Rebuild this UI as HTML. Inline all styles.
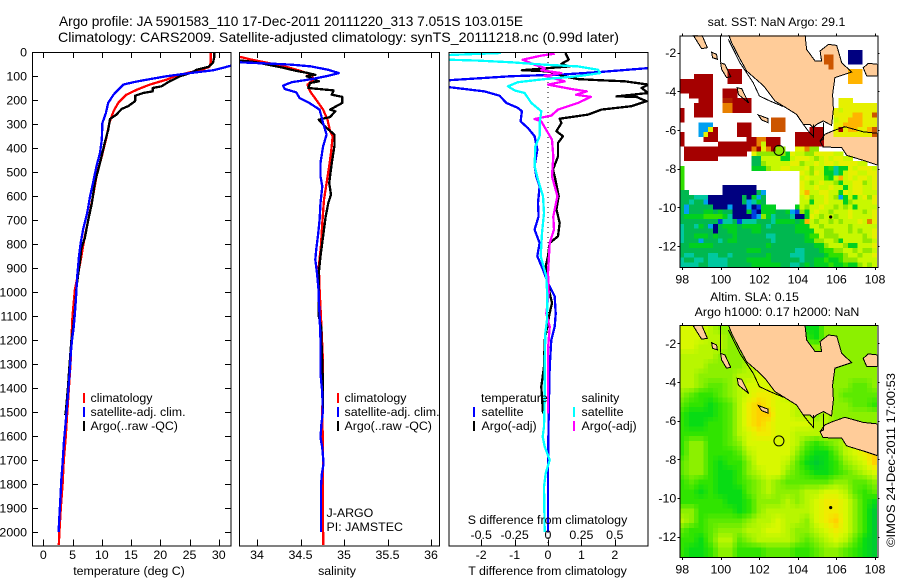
<!DOCTYPE html>
<html>
<head>
<meta charset="utf-8">
<title>Argo profile</title>
<style>
html,body{margin:0;padding:0;background:#fff;}
svg{display:block;}
text{font-family:"Liberation Sans",sans-serif;font-size:12.4px;fill:#000;}
.big{font-size:13.7px;}
</style>
</head>
<body>
<svg id="chart" xmlns="http://www.w3.org/2000/svg" width="900" height="580" viewBox="0 0 900 580">
  <rect x="0" y="0" width="900" height="580" fill="#fff"/>
  <text class="big" x="59" y="26">Argo profile: JA 5901583_110 17-Dec-2011 20111220_313 7.051S 103.015E</text>
  <text class="big" x="58" y="42" textLength="561" lengthAdjust="spacingAndGlyphs">Climatology: CARS2009. Satellite-adjusted climatology: synTS_20111218.nc (0.99d later)</text>
  <g id="plots"></g>
  <g id="maps"></g>

  <g>
    <rect x="83" y="393" width="2" height="10" fill="#f00"/>
    <text x="90.5" y="402">climatology</text>
    <rect x="83" y="407" width="2" height="10" fill="#00f"/>
    <text x="90.5" y="416">satellite-adj. clim.</text>
    <rect x="83" y="421" width="2" height="10" fill="#000"/>
    <text x="90.5" y="430">Argo(..raw -QC)</text>
  </g>
  <g>
    <rect x="337" y="393" width="2" height="10" fill="#f00"/>
    <text x="344.5" y="402">climatology</text>
    <rect x="337" y="407" width="2" height="10" fill="#00f"/>
    <text x="344.5" y="416">satellite-adj. clim.</text>
    <rect x="337" y="421" width="2" height="10" fill="#000"/>
    <text x="344.5" y="430">Argo(..raw -QC)</text>
    <text x="326.5" y="517">J-ARGO</text>
    <text x="326.5" y="531">PI: JAMSTEC</text>
  </g>
  <g>
    <text x="481" y="402">temperature</text>
    <rect x="473" y="407" width="2" height="10" fill="#00f"/>
    <text x="481.5" y="416">satellite</text>
    <rect x="473" y="421" width="2" height="10" fill="#000"/>
    <text x="481.5" y="430">Argo(-adj)</text>
    <text x="581.5" y="402">salinity</text>
    <rect x="573" y="407" width="2" height="10" fill="#0ff"/>
    <text x="581.5" y="416">satellite</text>
    <rect x="573" y="421" width="2" height="10" fill="#f0f"/>
    <text x="581.5" y="430">Argo(-adj)</text>
  </g>

  <text x="129" y="575" text-anchor="middle">temperature (deg C)</text>
  <text x="337" y="575" text-anchor="middle">salinity</text>
  <text x="547.5" y="575" text-anchor="middle">T difference from climatology</text>
  <text x="547.5" y="524" text-anchor="middle">S difference from climatology</text>

  <text x="776.5" y="26" text-anchor="middle">sat. SST: NaN Argo: 29.1</text>
  <text x="754.5" y="301" text-anchor="middle">Altim. SLA: 0.15</text>
  <text x="777" y="316" text-anchor="middle">Argo h1000: 0.17 h2000: NaN</text>
  <text transform="translate(895,547) rotate(-90)" textLength="174" lengthAdjust="spacingAndGlyphs">©IMOS 24-Dec-2011 17:00:53</text>
</svg>

<script>
// ---------- temperature profile data (depth in m, temperature in deg C) ----------
const tempClimDepth = [0,46,62,76,88,101,115,136,157,178,212,247,296,365,435,504,601,699,768,879,990,1101,1200,1300,1500,1600,1700,1800,1900,2000,2055];
const tempClimValue = [28.6,28.6,28.4,26.8,24.5,22.5,21.1,18.2,16,14.2,12.8,12,11.3,10.7,10,9.2,8.5,7.7,7.1,6.3,5.4,5,4.8,4.65,4.1,3.85,3.5,3.3,3,2.75,2.65];
const tempSatDepth = [57,76,88,101,118,126,136,157,178,212,254,296,365,421,476,546,601,671,740,796,851,935,1018,1100,1150,1200,1256,1339,1408,1492,1561,1631,1714,1783,1867,1964,2000];
const tempSatValue = [32.1,29.1,25.1,21.1,17.1,15.4,13.7,12.8,12,11.1,10.7,10.1,10,9.7,9.1,8.5,8,7.5,6.8,6.4,6.1,5.8,5.6,5.36,5.18,4.9,4.7,4.5,4.27,4,3.76,3.5,3.3,3.08,2.9,2.68,2.62];
const tempArgoDepth = [0,25,46,62,74,85,101,122,143,150,164,171,182,205,226,237,261,279,324,379,462,546,629,699,775,817,865,976,1060,1101,1150,1200,1300,1400,1500,1513];
const tempArgoValue = [29.2,29.2,29,28.2,26.2,25.4,23.4,21.6,20.2,18.7,18.7,17.1,15.7,15.7,14.5,13.4,12.5,11.4,11.1,10.5,9.7,8.8,8.3,7.7,7.1,6.5,6.3,5.7,5.45,5.3,5.1,4.8,4.5,4.2,3.85,3.75];
const tempTicks = [0,5,10,15,20,25,30];

// ---------- salinity profile data ----------
const salClimDepth = [20,32,43,60,80,95,115,136,164,199,240,282,330,351,421,476,546,615,712,810,893,990,1101,1300,1500,1700,2000,2055];
const salClimValue = [33.8,33.94,34.09,34.32,34.51,34.63,34.65,34.58,34.61,34.68,34.76,34.81,34.84,34.87,34.85,34.83,34.8,34.77,34.75,34.735,34.71,34.72,34.735,34.76,34.75,34.76,34.76,34.76];
const salSatDepth = [43,46,49,53,60,74,88,99,113,126,140,154,168,192,212,240,296,344,393,462,518,560,629,699,768,824,865,921,1004,1033,1100,1200,1340,1420,1505,1550,1605,1650,1715,1760,1815,2000];
const salSatValue = [33.8,33.98,34.2,34.4,34.62,34.82,34.94,34.82,34.63,34.4,34.3,34.32,34.45,34.49,34.6,34.72,34.76,34.8,34.76,34.73,34.73,34.75,34.73,34.72,34.7,34.68,34.67,34.69,34.71,34.71,34.72,34.73,34.73,34.75,34.755,34.74,34.73,34.75,34.765,34.745,34.735,34.735];
const salArgoDepth = [35,42,53,67,78,88,95,101,122,129,150,160,178,187,212,240,247,271,282,310,344,393,462,546,594,629,685,768,851,921,1101,1150,1200,1300,1400,1500];
const salArgoValue = [33.8,33.98,34.13,34.32,34.44,34.59,34.67,34.57,34.71,34.61,34.59,34.88,34.86,34.98,34.98,34.84,34.9,34.84,34.71,34.78,34.89,34.89,34.86,34.83,34.85,34.82,34.79,34.76,34.73,34.71,34.71,34.74,34.74,34.75,34.76,34.755];
const salTicks = [34,34.5,35,35.5,36];

// ---------- difference panel data ----------
const dTSatDepth = [50,67,83,94,101,118,130,146,154,164,182,212,233,247,289,317,351,407,476,518,560,629,685,740,796,851,907,963,1018,1090,1144,1200,1311,1506,1728,2000];
const dTSatValue = [3.6,3,1.6,0.4,-1.1,-3,-3.5,-3,-2.5,-1.9,-1.45,-1.25,-0.9,-0.78,-0.82,-0.6,-0.4,-0.32,-0.4,-0.35,-0.25,-0.3,-0.28,-0.4,-0.25,-0.32,-0.15,0,0.2,0.23,0.2,0.1,0.05,0.02,0,0];
const dTArgoDepth = [4,32,49,60,76,80,88,99,113,118,122,136,150,171,185,187,205,226,240,261,278,296,330,351,379,435,490,518,601,656,712,768,796,851,893,1004,1046,1087,1200,1311,1394,1506];
const dTArgoValue = [0.52,0.62,0.4,0.65,-0.78,-0.1,0.3,0.4,0.9,1.6,2.3,3,2.8,3,2.05,2.65,2.95,2.5,1.6,1.2,0.35,0.4,0.25,0.45,0.3,0.3,0.15,0.2,0.32,0.25,0.35,0.3,0.05,0,-0.07,0.05,0.12,0.05,-0.1,-0.12,-0.2,-0.15];
const dSSatDepth = [4,18,32,36,43,53,60,74,88,101,113,126,143,160,171,212,247,296,351,393,476,532,601,671,754,851,935,1018,1115,1172,1311,1450,1561,1603,1644,1700,1755,1811,2000];
const dSSatValue = [-0.35,-1,-0.745,-0.525,-0.275,-0.025,0.225,0.375,0.39,0.225,-0.025,-0.225,-0.3,-0.25,-0.175,-0.125,-0.05,-0.0625,-0.0625,-0.095,-0.1,-0.075,-0.0375,-0.03,-0.045,-0.055,-0.0125,-0.005,-0.0075,-0.02,-0.025,-0.025,-0.03,-0.04,-0.025,0.0125,-0.0175,-0.03,-0.025];
const dSArgoDepth = [7,15,32,53,67,76,88,99,122,136,154,164,178,187,212,240,265,279,289,337,365,435,518,601,685,740,796,921,1004,1090,1144,1240,1506];
const dSArgoValue = [0.05,-0.05,-0.19,-0.1,-0.025,-0.05,0.1,-0.025,0.125,0,0.175,0.29,0.21,0.32,0.225,0.075,0.025,-0.1,-0.05,0,0.03,0.04,0.03,0.07,0.04,0.045,0.0125,0,0.005,-0.0125,0.0125,0,0];
const dTTicks = [-2,-1,0,1,2];
const dSTicks = [-0.5,-0.25,0,0.25,0.5];
const depthTicks = [0,100,200,300,400,500,600,700,800,900,1000,1100,1200,1300,1400,1500,1600,1700,1800,1900,2000];

// ---------- map data ----------
const lonTicks = [98,100,102,104,106,108];
const latTicks = [-2,-4,-6,-8,-10,-12];
// SST category per 0.25 degree cell (41 columns, 48 rows, north to south); '.' = no data
const sstRows = [
".......... .......... .......... .......... .",
".......... .......... .......... .......... .",
".......... .......... .......... .......... .",
".......... .......... .......... .....NNN.. .",
".......... .......... .......... OO...NNN.. .",
".......... .......... .......... OO...NNN.. .",
".......... .......... .......... .O........ .",
".......... RRR....... .......... .....yyy.. .",
"...RRRR... RRR....... .......... .....yyy.. .",
"RRRRRRR... RRR....... .......... .....yyy.. .",
"RRRRRRR... .......... .......... .......... .",
"RRRRRRR..R RR........ .......... .......... .",
"..RRRRR..R RR........ .......... .......... .",
"....RRR..r rRRRR..... .......... ...YYY.... .",
"...RRRR..o oRRRR..... .......... ...YYYYYYY Y",
"R..RRRR..o oRRRR..... .......... ..YLYYYYYY Y",
"R..RRRR... .......... .......... ..YYYYyyYY O",
"R......... .........O OO........ ..LYYyyyYY Y",
"....bbb... ..RRR....O OO........ ..YYyyyyYY Y",
"....bbYR.. ..RRR....O OO.....RRR ..YRYyyYYy O",
"R...bYRR.. ..RRR..... ....RRRRRR ..YYYYYYYY O",
"R....RRR.. ....RRooRR R...RRRRRR .......... .",
"R.......RR RRRRRRoLRR R...RRRRRR .......... .",
".RRRRRRRRR RRRRRoRYoR gg..YYogg. .......... .",
".RRRRRRRRR RRRR.Ygggg ggGYLLggYY YYLL...... .",
".RRRRRRR.. .....ttLLL LGGLYYYLgL YLYYLL.... .",
".......... .....ttgLL LLLYYgLLYL YYLYYYYLL. .",
"h......... .....GGGgL LYYLLLYgLL GhcGGYLYYY L",
"h......... .......... .....YLgYL GGcGLYYLLY Y",
"h......... .......... .....LYLLL hGLyLYLYYL Y",
"h......... .......... .....YLgLY LLgGLLYYgL Y",
"h........N NNNNNN.... .....YLLYL LYLLGLYYLL Y",
"tt.......N NNNNNNtb.. .....YyLLY YLLGYLYYLL L",
"tttcccNNNN NNNtNGbt.. .....LYgLL YLgbGLGLYg Y",
"ttcttbNNNN NNNtbcGt.. .....LLGLL YLLLGgLLLL Y",
"tbtttttNNN bNNNbNBGGG ....GLgLLY LLgLgLGLLL L",
"tbtttGGtGt tNNNGBNGGG ttGbBgGLYL LgLLLYLLgL Y",
"tGGGGhhhhG cNNNNBbgGc tttcNNGYLg LLgLLYLLLL Y",
"ttttttttBc ctBccctttc GGGGtGyLgL LgLgLLLYLo Y",
"cttcGtbNtG GGtGGGGtct ttttGGGLLg LLLLLgLLLL L",
"cttttttNtt GGtttGGttt ttttGGGGLL ggLLLgLgLL Y",
"cttGGGtGtt tGttttttcc ttttttGhhL gggLLLLLgL Y",
"ctttbtttct GGtttttttc ttttttGGgg LLgGLLLLgg L",
"ttGGGGGttt ttttttttGt ttttttttGG gLLLgGGLLL Y",
"tttttttttt ttttGGGttt ttttcctttG hhggLLgLgg L",
"tcctttcctt ctttttttGt tttccctttt GhhhgLLgLL Y",
"cttcctcccc ttttGGGGGt tttttcttGG hGGhgggLLL L",
"ccccttcccc tttttGGGGG GttcctGtGG GhGGhGGgLg L"
];
const sstKeys = ["R","r","O","o","y","Y","L","g","h","G","t","c","b","B","N"];
const sstColors = ["#a50000","#b02000","#cc5500","#e88000","#ffb400","#e6f000","#c8f800","#90e800","#30e000","#00d020","#00b850","#00c8a0","#00a0f0","#0040e0","#000080"];
// SLA field on a 0.5 degree grid, colour-scale units 0 (low) to 10 (high)
const slaGrid = [
[7,7,7,6,5,5,5,5,5,5,5,5,5,2,2,5,5,5,5,5,5],
[7,7,7,6,6,5,5,5,5,5,5,5,5,3,2,5,5,5,5,5,5],
[7,7,6,6,6,5,5,5,5,5,5,5,5,5,5,5,5,5,5,5,5],
[6,6,6,6,5,5,5,5,5,5,5,5,5,5,5,5,5,5,5,5,5],
[6,6,6,5,5,5,5,6,6,6,5,5,5,5,5,5,5,5,5,5,5],
[6,6,5,5,5,5,6,6,7,7,6,5,5,5,5,5,5,5,5,5,5],
[6,6,5,4,4,5,6,7,7,7,6,6,5,5,5,5,5,5,4,4,5],
[5,4,3,3,4,5,6,7,8,8,7,6,5,5,5,5,5,4,4,4,4],
[4,3,3,2,3,4,6,8,9,8,7,7,6,6,6,6,5,5,4,4,3],
[3,2,2,2,3,4,6,8,9,9,7,7,6,6,5,6,5,5,5,5,5],
[3,2,2,3,3,4,6,8,9,8,7,7,7,7,6,6,5,5,5,5,5],
[3,3,3,3,3,4,6,7,8,8,7,7,6,6,6,6,5,5,5,6,6],
[3,5,5,3,3,4,5,7,7,7,7,7,6,4,3,4,5,6,7,7,7],
[3,5,5,3,3,3,4,6,7,7,7,7,5,3,2,2,4,6,7,8,9],
[4,5,5,3,2,3,3,5,7,7,7,6,4,2,1,2,3,5,6,7,9],
[4,5,5,3,2,2,3,5,6,7,7,5,4,3,2,2,3,4,5,6,7],
[3,4,3,3,2,2,3,4,5,6,5,4,4,4,4,4,5,5,4,4,5],
[3,3,2,3,2,2,2,4,5,6,5,5,5,6,6,7,7,6,4,3,4],
[3,3,3,3,3,2,2,3,5,5,5,6,5,6,7,8,8,7,5,3,2],
[5,5,3,3,3,3,2,3,5,6,6,6,6,6,7,8,8,7,5,3,1],
[6,5,3,4,4,4,4,5,6,6,7,6,6,5,7,8,9,7,5,3,1],
[4,3,3,4,5,5,5,6,6,7,7,6,5,5,6,7,8,7,5,3,1],
[3,3,2,4,6,6,4,5,6,6,6,6,5,4,5,6,7,6,4,2,1],
[3,2,2,3,5,5,3,3,3,4,4,4,3,3,4,5,5,4,3,2,1]
];
const slaColors = ["#00b84a","#00cc30","#08dc14","#30e400","#5cea00","#8cf000","#b8f600","#d8f800","#f0ec00","#ffd000","#ffa000"];
// coastlines as [lon, lat] vertices
const sumatraCoast = [[100.39,-1.05],[100.56,-1.48],[100.91,-2.17],[101.34,-2.95],[102.03,-3.55],[102.29,-3.81],[102.81,-4.5],[103.24,-4.76],[103.93,-5.19],[104.28,-5.71],[104.63,-5.71],[104.8,-5.88],[104.97,-5.71],[105.32,-5.53],[105.75,-5.76],[105.84,-4.93],[105.8,-4.16],[105.92,-3.29],[106.79,-3],[106.27,-2.52],[106.01,-1.62],[105.58,-1.57],[105.15,-1.91],[105.23,-2.43],[104.89,-2.43],[104.45,-1.83],[104.37,-1.05]];
const javaCoast = [[105.8,-6.05],[106.44,-5.83],[107.39,-6.09],[108.12,-6.17],[108.12,-7.81],[107.48,-7.6],[106.53,-7.31],[106.27,-6.91],[105.3,-6.88],[105.15,-6.57],[105.4,-6.22]];
const belitungCoast = [[107.39,-2.78],[107.65,-2.55],[108.12,-2.6],[108.12,-3.2],[107.57,-3.2]];
const siberutCoast = [[98.57,-1.1],[99,-1.05],[99.3,-1.74],[99,-1.79]];
const sipuraCoast = [[99.52,-1.97],[99.78,-2.09],[99.82,-2.34],[99.57,-2.26]];
const pagaiCoast = [[99.99,-2.52],[100.21,-2.6],[100.51,-3.24],[100.3,-3.29],[100.04,-2.86]];
const southPagaiCoast = [[100.85,-3.81],[101.08,-3.86],[101.44,-4.59],[100.91,-4.16]];
const engganoCoast = [[101.94,-5.22],[102.46,-5.41],[102.46,-5.62],[102.12,-5.48]];
const contourWest = [[99.97,-1.05],[99.97,-2.48]];
const contourShelf = [[100.39,-1.31],[100.99,-2.52],[101.68,-3.55],[102,-4.24],[102.55,-4.5],[103.24,-4.79]];
const contourStrait = [[104.28,-5.71],[104.54,-6.05],[104.8,-6.34],[104.8,-5.71]];
const contourKrakatau = [[105.32,-5.62],[105.32,-6.48],[105.15,-6.57]];
const floatPosition = [103.015,-7.051];
const christmasIsland = [105.7,-10.5];

// ---------- layout ----------
const NS = "http://www.w3.org/2000/svg";
const plotsG = document.getElementById("plots");
const mapsG = document.getElementById("maps");
const plotTop = 52, plotBottom = 545.5;

function mk(tag, attrs, parent, text) {
  const el = document.createElementNS(NS, tag);
  for (const k in attrs) el.setAttribute(k, attrs[k]);
  if (text !== undefined) el.textContent = text;
  parent.appendChild(el);
  return el;
}
function named(el, name) {
  
  
  return el;
}

// axis functions
const yDepth = d => 52 + d * 0.24;
const xTemp = v => 43.3 + v * 5.85;
const xSal = v => 344 + (v - 35) * 87;
const xDT = v => 548 + v * 33.4;
const xDS = v => 548 + v * 133.6;

function polyPoints(depths, values, xf) {
  return depths.map((d, i) => xf(values[i]).toFixed(1) + "," + yDepth(d).toFixed(1)).join(" ");
}

function panel(name, x0, x1) {
  const g = named(mk("g", {}, plotsG), name);
  const clipId = "clip-" + name;
  const defs = mk("defs", {}, g);
  const cp = mk("clipPath", {id: clipId}, defs);
  mk("rect", {x: x0, y: plotTop, width: x1 - x0, height: plotBottom - plotTop}, cp);
  const inner = named(mk("g", {"clip-path": "url(#" + clipId + ")"}, g), name + "-series");
  return {g, inner, x0, x1};
}
function series(p, name, depths, values, xf, color) {
  const el = mk("polyline", {points: polyPoints(depths, values, xf), fill: "none", stroke: color, "stroke-width": 2.3, "stroke-linejoin": "round", "shape-rendering": "crispEdges"}, p.inner);
  named(el, name);
}
function frame(p) {
  const r = mk("rect", {x: p.x0 + .5, y: plotTop + .5, width: p.x1 - p.x0 - 1, height: plotBottom - plotTop, fill: "none", stroke: "#000", "stroke-width": 1, "shape-rendering": "crispEdges"}, p.g);
  named(r, "plot-frame");
}
function xTicks(p, ticks, xf, labelY, labels) {
  ticks.forEach((t, i) => {
    const x = Math.round(xf(t)) + .5;
    named(mk("line", {x1: x, x2: x, y1: plotTop, y2: plotTop + 6, stroke: "#000", "shape-rendering": "crispEdges"}, p.g), "x-tick-top");
    named(mk("line", {x1: x, x2: x, y1: plotBottom, y2: plotBottom - 6, stroke: "#000", "shape-rendering": "crispEdges"}, p.g), "x-tick-bottom");
    if (labels) {
      named(mk("text", {x: xf(t), y: labelY, "text-anchor": "middle"}, p.g, labels[i]), "x-tick-label");
    }
  });
}

// ---- temperature panel ----
const p1 = panel("temperature-panel", 32, 231.5);
series(p1, "temperature-climatology-line", tempClimDepth, tempClimValue, xTemp, "#f00");
series(p1, "temperature-argo-line", tempArgoDepth, tempArgoValue, xTemp, "#000");
series(p1, "temperature-satellite-line", tempSatDepth, tempSatValue, xTemp, "#00f");
frame(p1);
xTicks(p1, tempTicks, xTemp, 559, tempTicks.map(String));
depthTicks.forEach(d => {
  const y = Math.round(yDepth(d)) + .5;
  named(mk("line", {x1: 32, x2: 38, y1: y, y2: y, stroke: "#000", "shape-rendering": "crispEdges"}, p1.g), "y-tick-left");
  named(mk("line", {x1: 231, x2: 225, y1: y, y2: y, stroke: "#000", "shape-rendering": "crispEdges"}, p1.g), "y-tick-right");
  named(mk("text", {x: 27, y: yDepth(d) + 4.5, "text-anchor": "end"}, p1.g, String(d)), "y-tick-label");
});

// ---- salinity panel ----
const p2 = panel("salinity-panel", 239, 440);
series(p2, "salinity-climatology-line", salClimDepth, salClimValue, xSal, "#f00");
series(p2, "salinity-argo-line", salArgoDepth, salArgoValue, xSal, "#000");
series(p2, "salinity-satellite-line", salSatDepth, salSatValue, xSal, "#00f");
frame(p2);
xTicks(p2, salTicks, xSal, 559, salTicks.map(String));

// ---- difference panel ----
const p3 = panel("difference-panel", 448.5, 648.5);
const zeroLine = mk("line", {x1: xDT(0), x2: xDT(0), y1: plotTop, y2: plotBottom, stroke: "#000", "stroke-width": 1, "stroke-dasharray": "1 4", "shape-rendering": "crispEdges"}, p3.inner);
named(zeroLine, "zero-difference-line");
series(p3, "t-satellite-difference-line", dTSatDepth, dTSatValue, xDT, "#00f");
series(p3, "t-argo-difference-line", dTArgoDepth, dTArgoValue, xDT, "#000");
series(p3, "s-argo-difference-line", dSArgoDepth, dSArgoValue, xDS, "#f0f");
series(p3, "s-satellite-difference-line", dSSatDepth, dSSatValue, xDS, "#0ff");
frame(p3);
xTicks(p3, dTTicks, xDT, 559, dTTicks.map(String));
dSTicks.forEach(t => {
  named(mk("text", {x: xDS(t), y: 539, "text-anchor": "middle"}, p3.g, String(t)), "s-tick-label");
});

// ---------- maps ----------
function makeMap(name, left, right, top, bottom, yMinus2, clipName) {
  const g = named(mk("g", {}, mapsG), name);
  const defs = mk("defs", {}, g);
  const cp = mk("clipPath", {id: clipName}, defs);
  mk("rect", {x: left, y: top, width: right - left, height: bottom - top}, cp);
  const inner = named(mk("g", {"clip-path": "url(#" + clipName + ")"}, g), name + "-content");
  return {
    g, inner, left, right, top, bottom,
    x: lon => 682.3 + (lon - 98) * 19.27,
    y: lat => yMinus2 + (-2 - lat) * 19.33,
    lon0: 98 + (left - 682.3) / 19.27,
    lat0: -2 + (yMinus2 - top) / 19.33
  };
}
function pts(m, verts) {
  return verts.map(v => m.x(v[0]).toFixed(1) + "," + m.y(v[1]).toFixed(1)).join(" ");
}
const landShapes = [sumatraCoast, javaCoast, belitungCoast, siberutCoast, sipuraCoast, pagaiCoast, southPagaiCoast, engganoCoast];
const lineShapes = [contourWest, contourShelf, contourStrait, contourKrakatau];
function drawLandFill(m) {
  landShapes.forEach(s => {
    named(mk("polygon", {points: pts(m, s), fill: "#ffcc99", stroke: "none"}, m.inner), "land");
  });
}
function drawCoast(m) {
  landShapes.forEach(s => {
    named(mk("polygon", {points: pts(m, s), fill: "none", stroke: "#000", "stroke-width": 1, "shape-rendering": "crispEdges"}, m.inner), "coastline");
  });
  lineShapes.forEach(s => {
    named(mk("polyline", {points: pts(m, s), fill: "none", stroke: "#000", "stroke-width": 1, "shape-rendering": "crispEdges"}, m.inner), "depth-contour");
  });
  named(mk("circle", {cx: m.x(christmasIsland[0]), cy: m.y(christmasIsland[1]), r: 1.6, fill: "#000"}, m.inner), "island-marker");
}
function drawMarker(m) {
  named(mk("circle", {cx: m.x(floatPosition[0]), cy: m.y(floatPosition[1]), r: 5, fill: "none", stroke: "#000", "stroke-width": 1}, m.inner), "float-position-marker");
}
function mapAxes(m) {
  named(mk("rect", {x: m.left + .5, y: m.top + .5, width: m.right - m.left, height: m.bottom - m.top, fill: "none", stroke: "#000", "shape-rendering": "crispEdges"}, m.g), "map-frame");
  lonTicks.forEach(t => {
    const x = Math.round(m.x(t)) + .5;
    named(mk("line", {x1: x, x2: x, y1: m.top - 2, y2: m.top, stroke: "#000", "shape-rendering": "crispEdges"}, m.g), "lon-tick-top");
    named(mk("line", {x1: x, x2: x, y1: m.bottom, y2: m.bottom + 3, stroke: "#000", "shape-rendering": "crispEdges"}, m.g), "lon-tick-bottom");
    named(mk("text", {x: m.x(t), y: m.bottom + 16.5, "text-anchor": "middle"}, m.g, String(t)), "lon-tick-label");
  });
  latTicks.forEach(t => {
    const y = Math.round(m.y(t)) + .5;
    named(mk("line", {x1: m.left - 2, x2: m.left, y1: y, y2: y, stroke: "#000", "shape-rendering": "crispEdges"}, m.g), "lat-tick-left");
    named(mk("line", {x1: m.right, x2: m.right + 2, y1: y, y2: y, stroke: "#000", "shape-rendering": "crispEdges"}, m.g), "lat-tick-right");
    named(mk("text", {x: m.left - 3, y: m.y(t) + 4.5, "text-anchor": "end"}, m.g, String(t)), "lat-tick-label");
  });
}
const CELL_DEG = 0.25;

// SST map: land first, satellite cells above it, coastline last
const map1 = makeMap("sst-map", 679.3, 877.3, 35.3, 267, 52.7, "clip-sst");
drawLandFill(map1);
const sstCells = named(mk("g", {"shape-rendering": "crispEdges"}, map1.inner), "sst-cells");
sstRows.forEach((row, j) => {
  row.replace(/ /g, "").split("").forEach((ch, i) => {
    const k = sstKeys.indexOf(ch);
    if (k < 0) return;
    const lon = map1.lon0 + i * CELL_DEG, lat = map1.lat0 - j * CELL_DEG;
    const c = mk("rect", {x: map1.x(lon).toFixed(2), y: map1.y(lat).toFixed(2), width: 5, height: 5, fill: sstColors[k]}, sstCells);
    named(c, "sst-cell");
  });
});
drawCoast(map1);
drawMarker(map1);
mapAxes(map1);

// SLA map: field below, land on top
function slaColor(v) {
  const lo = Math.max(0, Math.min(slaColors.length - 1, Math.floor(v)));
  const hi = Math.min(slaColors.length - 1, lo + 1);
  const f = v - lo;
  const parse = h => [1, 3, 5].map(o => parseInt(h.substr(o, 2), 16));
  const a = parse(slaColors[lo]), b = parse(slaColors[hi]);
  return "rgb(" + a.map((c, i) => Math.round(c + (b[i] - c) * f)).join(",") + ")";
}
function slaAt(u, v) {
  const nr = slaGrid.length, nc = slaGrid[0].length;
  const r0 = Math.min(nr - 1, Math.floor(v)), c0 = Math.min(nc - 1, Math.floor(u));
  const r1 = Math.min(nr - 1, r0 + 1), c1 = Math.min(nc - 1, c0 + 1);
  const fr = v - r0, fc = u - c0;
  return (slaGrid[r0][c0] * (1 - fc) + slaGrid[r0][c1] * fc) * (1 - fr) + (slaGrid[r1][c0] * (1 - fc) + slaGrid[r1][c1] * fc) * fr;
}
const map2 = makeMap("sla-map", 679.3, 877.3, 325, 557, 343.3, "clip-sla");
const slaCells = named(mk("g", {"shape-rendering": "crispEdges"}, map2.inner), "sla-cells");
for (let j = 0; j < 48; j++) {
  for (let i = 0; i < 41; i++) {
    const lon = map2.lon0 + i * CELL_DEG, lat = map2.lat0 - j * CELL_DEG;
    const c = mk("rect", {x: map2.x(lon).toFixed(2), y: map2.y(lat).toFixed(2), width: 5, height: 5, fill: slaColor(slaAt(i / 2, j / 2))}, slaCells);
    named(c, "sla-cell");
  }
}
drawLandFill(map2);
drawCoast(map2);
drawMarker(map2);
mapAxes(map2);
</script>
</body>
</html>
